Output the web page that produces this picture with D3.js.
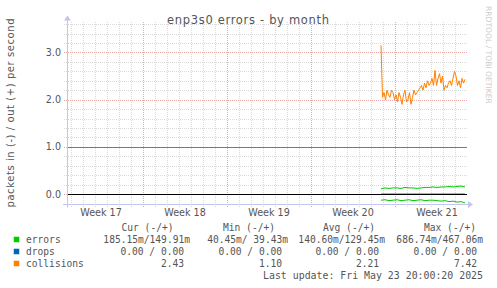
<!DOCTYPE html>
<html>
<head>
<meta charset="utf-8">
<script src="https://cdn.jsdelivr.net/npm/d3@7"></script>
<style>
  body { margin: 0; background: #fff; }
  svg { display: block; }
  text { font-family: "DejaVu Sans", sans-serif; }
  .mono { font-family: "DejaVu Sans Mono", monospace; font-size: 9.6px; fill: #555; }
</style>
</head>
<body>
<div id="chart"></div>
<script>
// --- data ---
const weekLabels = ["Week 17", "Week 18", "Week 19", "Week 20", "Week 21"];
const yTicks = [0, 1, 2, 3];

// collisions, one sample every 3h from May 16 20:00 to May 23 20:00
const collisions = [3.15, 2.05, 2.15, 2.0, 2.2, 2.1, 2.05, 2.2, 2.15, 2.0, 2.1, 1.95, 2.15, 2.05, 1.9,
  2.1, 2.2, 1.95, 2.0, 2.15, 1.9, 2.05, 2.2, 2.1, 2.15, 2.2, 2.25, 2.3, 2.2, 2.35, 2.25, 2.4, 2.3,
  2.35, 2.45, 2.3, 2.62, 2.3, 2.45, 2.55, 2.35, 2.5, 2.2, 2.3, 2.25, 2.35, 2.4, 2.3, 2.45, 2.6, 2.5,
  2.3, 2.4, 2.25, 2.45, 2.35, 2.43];
// errors, one sample every 8h
const errorsOut = [0.11, 0.13, 0.12, 0.13, 0.13, 0.12, 0.14, 0.13, 0.13, 0.12, 0.13, 0.14, 0.14,
  0.15, 0.14, 0.15, 0.15, 0.16, 0.15, 0.16, 0.17, 0.15];
const errorsIn = [-0.13, -0.12, -0.14, -0.13, -0.12, -0.14, -0.13, -0.12, -0.14, -0.13, -0.12,
  -0.14, -0.13, -0.13, -0.14, -0.15, -0.14, -0.16, -0.15, -0.17, -0.16, -0.185];
const errorsWarning = 1;

const legendRows = [
  { name: "errors", color: "#00CC00", cur: "185.15m/149.91m", min: "40.45m/ 39.43m", avg: "140.60m/129.45m", max: "686.74m/467.06m", unit: true },
  { name: "drops", color: "#0066B3", cur: "0.00 / 0.00", min: "0.00 / 0.00", avg: "0.00 / 0.00", max: "0.00 / 0.00", unit: false },
  { name: "collisions", color: "#FF8000", cur: "2.43", min: "1.10", avg: "2.21", max: "7.42", unit: false }
];

const dataStart = Date.UTC(2025, 4, 16, 20, 0);
const hour = 3600 * 1000;

const width = 497, height = 288;
const svg = d3.select("#chart").append("svg")
  .attr("width", width).attr("height", height);

const x = d3.scaleUtc()
  .domain([new Date(Date.UTC(2025, 3, 20, 16, 0)), new Date(Date.UTC(2025, 4, 24, 0, 0))])
  .range([67, 467]);
const y = d3.scaleLinear().domain([-0.2, 3.655]).range([203.5, 21.5]);

const crisp = v => Math.round(v) + 0.5;
const [x0, x1] = x.range();
const [yb, yt] = y.range();

// minor grid
const grid = svg.append("g").attr("stroke-width", 1).attr("stroke-dasharray", "1,1")
  .attr("fill", "none").attr("shape-rendering", "crispEdges");
d3.utcDay.range(x.domain()[0], x.domain()[1]).forEach(d => {
  grid.append("line").attr("x1", crisp(x(d))).attr("x2", crisp(x(d)))
    .attr("y1", yt).attr("y2", yb + 3).attr("stroke", "#dadada");
});
d3.range(-2, 37, 2).map(v => v / 10).forEach(v => {
  grid.append("line").attr("x1", x0 - 3).attr("x2", x1)
    .attr("y1", crisp(y(v))).attr("y2", crisp(y(v))).attr("stroke", "#dadada");
});
// major grid
d3.utcSunday.range(x.domain()[0], x.domain()[1]).forEach(d => {
  grid.append("line").attr("x1", crisp(x(d))).attr("x2", crisp(x(d)))
    .attr("y1", yt).attr("y2", yb + 3).attr("stroke", "#e8a8a8");
});
yTicks.forEach(v => {
  grid.append("line").attr("x1", x0 - 3).attr("x2", x1)
    .attr("y1", crisp(y(v))).attr("y2", crisp(y(v))).attr("stroke", "#e8a8a8");
});

// y tick labels
svg.append("g").selectAll("text").data(yTicks).enter().append("text")
  .attr("x", 61).attr("y", d => y(d) + 3.5)
  .attr("text-anchor", "end").attr("font-size", "9.6px").attr("fill", "#555")
  .text(d => d.toFixed(1));

// week labels, centered in each week
const sundays = d3.utcSunday.range(new Date(Date.UTC(2025, 3, 19)), x.domain()[1]);
svg.append("g").selectAll("text").data(weekLabels).enter().append("text")
  .attr("x", (d, i) => x(new Date(+sundays[i] + 84 * hour)))
  .attr("y", 216).attr("text-anchor", "middle").attr("font-size", "9.6px").attr("fill", "#555")
  .text(d => d);

const line = d3.line().x(d => x(d[0])).y(d => y(d[1]));
const series = (vals, step) => vals.map((v, i) => [new Date(dataStart + i * step * hour), v]);

// drops at zero, then the zero rule
svg.append("path").datum(series([0, 0], 168)).attr("d", line)
  .attr("fill", "none").attr("stroke", "#0066B3");
svg.append("rect").attr("x", x0).attr("y", Math.round(y(0))).attr("width", x1 - x0).attr("height", 1)
  .attr("fill", "#000");

svg.append("path").datum(series(errorsOut, 8)).attr("d", line)
  .attr("fill", "none").attr("stroke", "#00CC00").attr("stroke-width", 1);
svg.append("path").datum(series(errorsIn, 8)).attr("d", line)
  .attr("fill", "none").attr("stroke", "#00CC00").attr("stroke-width", 1);
svg.append("path").datum(series(collisions, 3)).attr("d", line)
  .attr("fill", "none").attr("stroke", "#FF8000").attr("stroke-width", 1);

// hrule for the warning level (drawn as a filled 1px rect so it stays bright green)
svg.append("rect").attr("x", x0).attr("y", Math.round(y(errorsWarning)))
  .attr("width", x1 - x0).attr("height", 1).attr("fill", "#00CC00");

// axes with arrows
const axisColor = "#c4c4f0";
svg.append("line").attr("x1", x0 - 4).attr("x2", x1 + 2).attr("y1", crisp(yb)).attr("y2", crisp(yb))
  .attr("stroke", axisColor);
svg.append("path").attr("d", `M${x1 + 1},${crisp(yb) - 3.5}L${x1 + 6},${crisp(yb)}L${x1 + 1},${crisp(yb) + 3.5}Z`)
  .attr("fill", axisColor);
svg.append("line").attr("x1", crisp(x0)).attr("x2", crisp(x0)).attr("y1", yb + 4).attr("y2", yt - 2)
  .attr("stroke", axisColor);
svg.append("path").attr("d", `M${crisp(x0) - 3.5},${yt - 1}L${crisp(x0)},${yt - 6}L${crisp(x0) + 3.5},${yt - 1}Z`)
  .attr("fill", axisColor);

// titles
svg.append("text").attr("x", 248).attr("y", 23.5).attr("text-anchor", "middle")
  .attr("font-size", "11.5px").attr("fill", "#555")
  .attr("textLength", 162).attr("lengthAdjust", "spacing")
  .text("enp3s0 errors - by month");
svg.append("text").attr("transform", "translate(14,113) rotate(-90)")
  .attr("text-anchor", "middle").attr("font-size", "10px").attr("fill", "#555")
  .attr("textLength", 189).attr("lengthAdjust", "spacing")
  .text("packets in (-) / out (+) per second");
svg.append("text").attr("transform", "translate(486,6) rotate(90)")
  .attr("font-size", "7.6px").attr("fill", "#ccc").text("RRDTOOL / TOBI OETIKER");

// legend
const colEnds = [190, 288, 385, 483];
const heads = ["Cur (-/+)", "Min (-/+)", "Avg (-/+)", "Max (-/+)"];
const headEnds = [173.5, 275, 375, 476];
heads.forEach((h, i) => {
  svg.append("text").attr("class", "mono").attr("x", headEnds[i]).attr("y", 231)
    .attr("text-anchor", "end").text(h);
});
legendRows.forEach((r, j) => {
  const ly = 243 + j * 12;
  svg.append("rect").attr("x", 13.5).attr("y", ly - 6.5).attr("width", 6).attr("height", 6)
    .attr("fill", r.color).attr("stroke", "#fff").attr("stroke-width", 0.5);
  svg.append("text").attr("class", "mono").attr("x", 26).attr("y", ly).text(r.name);
  [r.cur, r.min, r.avg, r.max].forEach((v, i) => {
    svg.append("text").attr("class", "mono").attr("x", colEnds[i] - (r.unit ? 0 : 6))
      .attr("y", ly).attr("text-anchor", "end").text(v);
  });
});
svg.append("text").attr("class", "mono").attr("x", 483).attr("y", 279)
  .attr("text-anchor", "end").style("font-size", "9.9px").text("Last update: Fri May 23 20:00:20 2025");
</script>
</body>
</html>
